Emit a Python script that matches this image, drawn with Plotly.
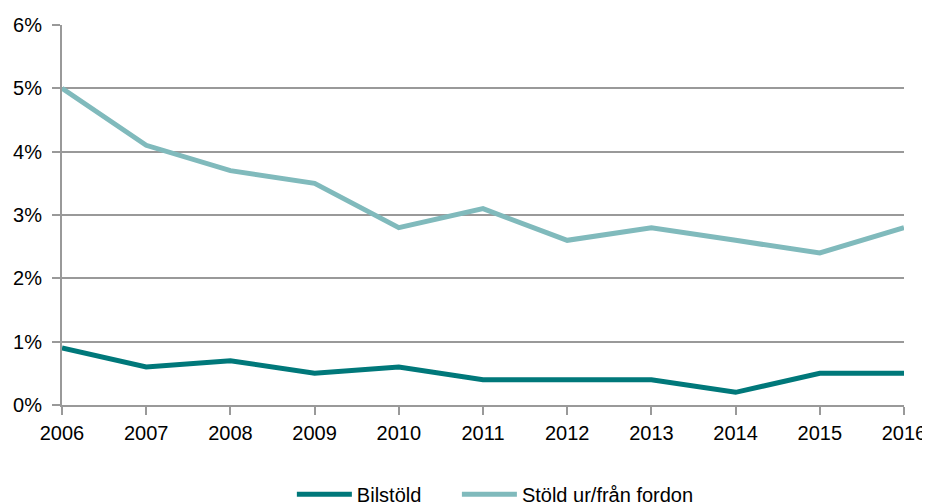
import plotly.graph_objects as go

years = [2006, 2007, 2008, 2009, 2010, 2011, 2012, 2013, 2014, 2015, 2016]
bilstold = [0.9, 0.6, 0.7, 0.5, 0.6, 0.4, 0.4, 0.4, 0.2, 0.5, 0.5]
stold_fordon = [5.0, 4.1, 3.7, 3.5, 2.8, 3.1, 2.6, 2.8, 2.6, 2.4, 2.8]
y_ticks = [0, 1, 2, 3, 4, 5, 6]

fig = go.Figure()
fig.add_trace(go.Scatter(x=years, y=bilstold, mode="lines", name="Bilstöld",
                         line=dict(color="#00787A", width=5), legend="legend"))
fig.add_trace(go.Scatter(x=years, y=stold_fordon, mode="lines", name="Stöld ur/från fordon",
                         line=dict(color="#80BABC", width=5), legend="legend2"))

font = dict(family="Liberation Sans, Arial, sans-serif", size=20, color="#000000")
leg_common = dict(orientation="h", xanchor="left", y=-0.235, yanchor="middle",
                  itemwidth=55, font=font, bgcolor="rgba(0,0,0,0)")
fig.update_layout(
    width=930, height=504,
    margin=dict(l=54, r=34, t=17, b=107, autoexpand=False),
    paper_bgcolor="white", plot_bgcolor="white",
    font=font,
    showlegend=True,
    legend=dict(x=0.273, **leg_common),
    legend2=dict(x=0.469, **leg_common),
    xaxis=dict(range=[2006, 2016], tickmode="array", tickvals=years,
               ticktext=[str(y) for y in years], automargin=False,
               showgrid=False, zeroline=False, showline=True, linecolor="#999999",
               linewidth=2, ticks="outside", ticklen=8, tickcolor="#999999", tickwidth=2,
               ticklabelstandoff=1),
    yaxis=dict(range=[0, 6], tickvals=y_ticks, automargin=False,
               ticktext=[f"{v}%" for v in y_ticks],
               showgrid=True, gridcolor="#999999", gridwidth=2, zeroline=False,
               showline=True, linecolor="#999999", linewidth=2,
               ticks="outside", ticklen=8, tickcolor="#999999", tickwidth=2,
               ticklabelstandoff=6),
)
fig.write_html("out.html")
